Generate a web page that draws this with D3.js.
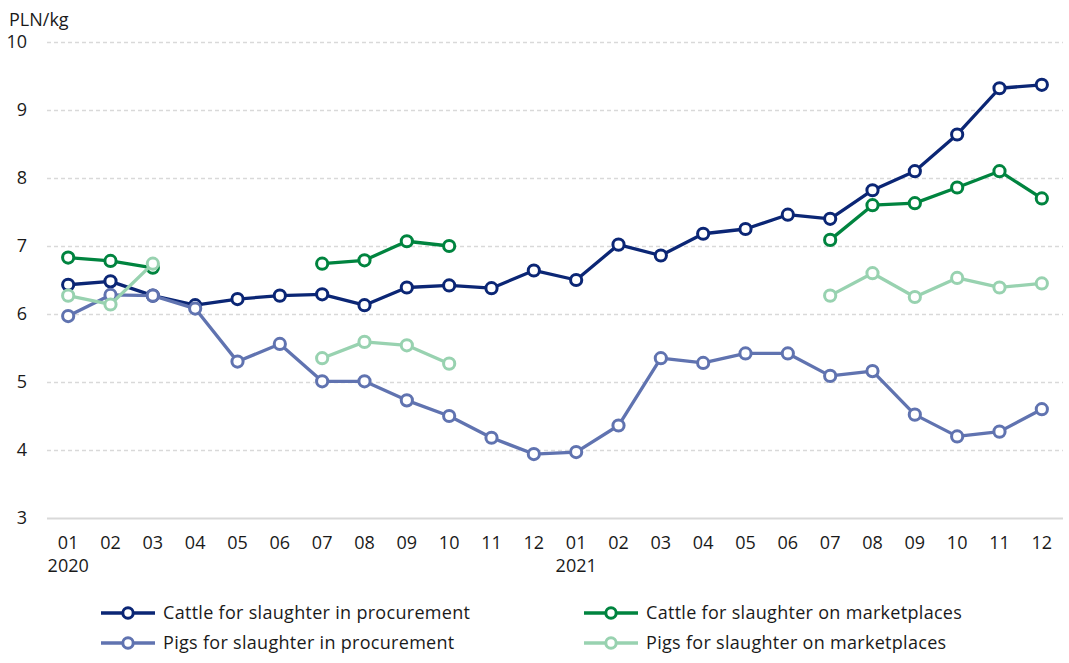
<!DOCTYPE html>
<html>
<head>
<meta charset="utf-8">
<script src="https://cdn.jsdelivr.net/npm/d3@7"></script>
<style>
  html, body { margin: 0; padding: 0; background: #fff; }
  svg text { font-family: "Open Sans", "Noto Sans", sans-serif; fill: #1a1a1a; }
</style>
</head>
<body>
<div id="chart"></div>
<script>
// categories: two years of monthly data
const periods = [
  '2020-01','2020-02','2020-03','2020-04','2020-05','2020-06',
  '2020-07','2020-08','2020-09','2020-10','2020-11','2020-12',
  '2021-01','2021-02','2021-03','2021-04','2021-05','2021-06',
  '2021-07','2021-08','2021-09','2021-10','2021-11','2021-12'
];
const monthLabels = periods.map(p => p.slice(5));
const yearLabels = { '2020-01': '2020', '2021-01': '2021' };
const yTicks = [3, 4, 5, 6, 7, 8, 9, 10];

// series values (PLN/kg), null = no data
const cattleProcurement = [6.43, 6.48, 6.27, 6.13, 6.22, 6.27, 6.29, 6.13, 6.39, 6.42, 6.38, 6.64,
                           6.50, 7.02, 6.86, 7.18, 7.25, 7.46, 7.40, 7.82, 8.10, 8.64, 9.32, 9.37];
const cattleMarket = [6.83, 6.78, 6.68, null, null, null, 6.74, 6.79, 7.07, 7.00, null, null,
                      null, null, null, null, null, null, 7.09, 7.60, 7.63, 7.86, 8.10, 7.70];
const pigsProcurement = [5.97, 6.28, 6.27, 6.08, 5.30, 5.56, 5.01, 5.01, 4.73, 4.50, 4.18, 3.94,
                         3.97, 4.36, 5.35, 5.28, 5.42, 5.42, 5.09, 5.16, 4.52, 4.20, 4.27, 4.60];
const pigsMarket = [6.27, 6.14, 6.74, null, null, null, 5.35, 5.59, 5.54, 5.27, null, null,
                    null, null, null, null, null, null, 6.27, 6.60, 6.25, 6.53, 6.39, 6.45];

const series = [
  { name: 'Cattle for slaughter in procurement', values: cattleProcurement, color: '#0b2675' },
  { name: 'Cattle for slaughter on marketplaces', values: cattleMarket, color: '#00843f' },
  { name: 'Pigs for slaughter in procurement', values: pigsProcurement, color: '#6073b0' },
  { name: 'Pigs for slaughter on marketplaces', values: pigsMarket, color: '#98d2b0' }
];

const width = 1069, height = 663;
const margin = { top: 42, right: 6, bottom: 145, left: 47 };
const fontSize = '18px';

const svg = d3.select('#chart').append('svg')
  .attr('width', width)
  .attr('height', height);

const x = d3.scaleBand()
  .domain(periods)
  .range([margin.left, width - margin.right]);

const y = d3.scaleLinear()
  .domain([3, 10])
  .range([height - margin.bottom, margin.top]);

const cx = d => x(d) + x.bandwidth() / 2;

// gridlines + y labels
const yAxis = svg.append('g')
  .attr('class', 'y axis')
  .attr('transform', `translate(${margin.left},0)`)
  .call(d3.axisLeft(y).tickValues(yTicks).tickSize(-(width - margin.left - margin.right)).tickFormat(d3.format('d')));
yAxis.select('.domain').remove();
yAxis.selectAll('.tick line')
  .attr('stroke', '#d9d9d9')
  .attr('stroke-dasharray', d => d === 3 ? null : '4,3')
  .attr('stroke-width', d => d === 3 ? 2 : 1.3);
yAxis.selectAll('.tick text')
  .attr('x', -20)
  .style('font-size', fontSize)
  .attr('text-anchor', 'end');

svg.append('text')
  .attr('x', 9)
  .attr('y', 26)
  .style('font-size', fontSize)
  .text('PLN/kg');

// x axis labels
const xAxis = svg.append('g')
  .attr('class', 'x axis')
  .attr('transform', `translate(0,${y(3)})`)
  .call(d3.axisBottom(x).tickSize(0).tickFormat((d, i) => monthLabels[i]));
xAxis.select('.domain').remove();
xAxis.selectAll('.tick text')
  .attr('y', 18)
  .attr('dy', '0.71em')
  .style('font-size', fontSize);
xAxis.selectAll('.tick')
  .filter(d => yearLabels[d])
  .append('text')
  .attr('y', 41)
  .attr('dy', '0.71em')
  .attr('text-anchor', 'middle')
  .style('font-size', fontSize)
  .style('fill', '#1a1a1a')
  .text(d => yearLabels[d]);

// lines + markers
const line = d3.line()
  .defined(d => d.v != null)
  .x(d => cx(d.p))
  .y(d => y(d.v));

series.forEach(s => {
  const pts = periods.map((p, i) => ({ p: p, v: s.values[i] }));
  const g = svg.append('g').attr('class', 'series');
  g.append('path')
    .datum(pts)
    .attr('fill', 'none')
    .attr('stroke', s.color)
    .attr('stroke-width', 3.3)
    .attr('stroke-linejoin', 'round')
    .attr('d', line);
  g.selectAll('circle')
    .data(pts.filter(d => d.v != null))
    .enter()
    .append('circle')
    .attr('cx', d => cx(d.p))
    .attr('cy', d => y(d.v))
    .attr('r', 5.6)
    .attr('fill', '#fff')
    .attr('stroke', s.color)
    .attr('stroke-width', 3);
});

// legend
const legendPos = [
  { x: 101, y: 613 }, { x: 584, y: 613 },
  { x: 101, y: 643 }, { x: 584, y: 643 }
];
series.forEach((s, i) => {
  const lg = svg.append('g').attr('transform', `translate(${legendPos[i].x},${legendPos[i].y})`);
  lg.append('line')
    .attr('x1', 0).attr('x2', 54)
    .attr('stroke', s.color)
    .attr('stroke-width', 3.3);
  lg.append('circle')
    .attr('cx', 27)
    .attr('r', 5.2)
    .attr('fill', '#fff')
    .attr('stroke', s.color)
    .attr('stroke-width', 3);
  lg.append('text')
    .attr('x', 62)
    .attr('dy', '0.35em')
    .style('font-size', fontSize)
    .style('letter-spacing', '0.3px')
    .text(s.name);
});
</script>
</body>
</html>
